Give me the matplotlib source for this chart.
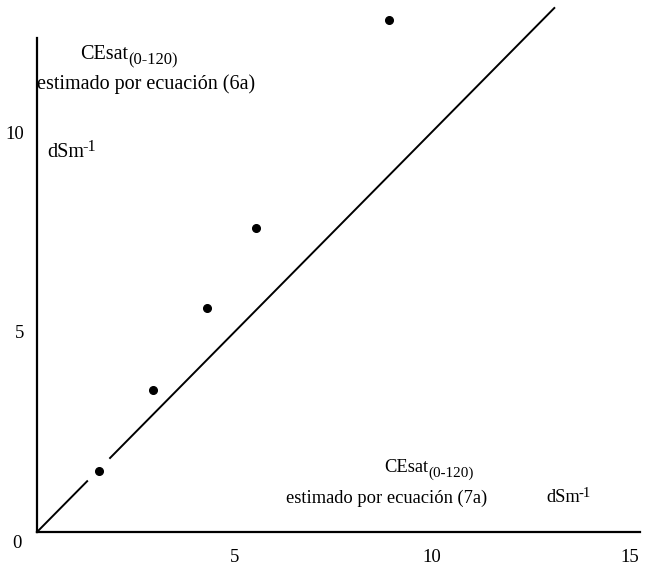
import matplotlib
matplotlib.use('Agg')
import matplotlib.pyplot as plt

# fonts: scanned figure uses a Times-like serif
plt.rcParams['font.family'] = 'Liberation Serif'

# data
ce_7a = [1.57, 2.94, 4.30, 5.54, 8.91]
ce_6a = [1.53, 3.55, 5.60, 7.60, 12.80]

# 1:1 line, drawn in two pieces (broken around first point)
line_x1 = [0.0, 1.27]
line_x2 = [1.85, 13.1]

xticks = [5, 10, 15]
yticks = [5, 10]

f0 = plt.figure(figsize=(6.5, 5.67), dpi=100)
ax = f0.add_axes([37 / 650, 35 / 567, 603 / 650, 494 / 567])

ax.plot(line_x1, line_x1, 'k-', lw=1.4, clip_on=False)
ax.plot(line_x2, line_x2, 'k-', lw=1.4, clip_on=False)
ax.plot(ce_7a, ce_6a, 'ko', ms=5.5, clip_on=False)

ax.set_xlim(0, 15.27)
ax.set_ylim(0, 12.35)

for s in ['top', 'right']:
    ax.spines[s].set_visible(False)
for s in ['left', 'bottom']:
    ax.spines[s].set_linewidth(1.6)

ax.set_xticks(xticks)
ax.set_yticks(yticks)
ax.tick_params(length=0, labelsize=13.5)
ax.tick_params(axis='x', pad=12)
ax.tick_params(axis='y', pad=9)
ax.text(-0.5, -0.3, '0', fontsize=13.5, ha='center', va='center')


def label_with_sub(x, y, main, sub, size, up=False):
    # main text followed by a sub/superscript drawn as its own text
    t = ax.text(x, y, main, fontsize=size, va='center')
    if up:
        ax.annotate(sub, xy=(1, 1), xycoords=t, xytext=(-1, -3),
                    textcoords='offset points', fontsize=size * 0.8,
                    va='center', ha='left')
    else:
        ax.annotate(sub, xy=(1, 0), xycoords=t, xytext=(0, 2),
                    textcoords='offset points', fontsize=size * 0.82,
                    va='center', ha='left')
    return t


# labels inside the plot
label_with_sub(1.1, 11.95, 'CEsat', '(0-120)', 14.5)
ax.text(0.0, 11.2, 'estimado por ecuación (6a)', fontsize=14.5, va='center')
label_with_sub(0.25, 9.5, 'dSm', '-1', 14.5, up=True)

label_with_sub(8.8, 1.6, 'CEsat', '(0-120)', 13.3)
ax.text(6.3, 0.85, 'estimado por ecuación (7a)', fontsize=13.3, va='center')
label_with_sub(12.9, 0.85, 'dSm', '-1', 13.3, up=True)

f0.savefig('out.png', dpi=100)
